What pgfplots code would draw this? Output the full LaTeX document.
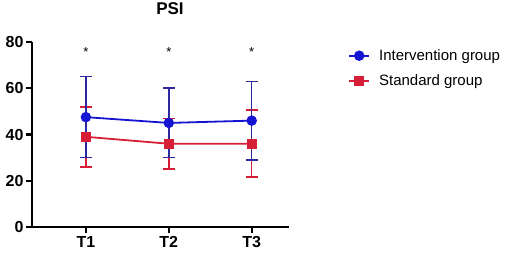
\documentclass[border=0pt]{standalone}
\usepackage{fontspec}
\setmainfont{Liberation Sans}
\usepackage{pgfplots}
\pgfplotsset{compat=1.18}
\definecolor{iblue}{RGB}{20,20,210}
\definecolor{ebar}{RGB}{45,40,160}
\definecolor{sred}{RGB}{215,30,55}
\begin{document}
\begin{tikzpicture}[x=1pt,y=1pt]
\path[use as bounding box] (-32,-37) rectangle (478,227);
\begin{axis}[
  at={(0,0)}, anchor=south west,
  scale only axis, width=257pt, height=185pt,
  xmin=0.35, xmax=3.45, ymin=0, ymax=80,
  axis x line*=bottom, axis y line*=left,
  axis line style={line width=2.2pt, black},
  xtick={1,2,3}, xticklabels={T1,T2,T3},
  ytick={0,20,40,60,80},
  tick align=outside, major tick length=6pt,
  tick style={line width=2.2pt, black},
  ticklabel style={font=\bfseries\fontsize{16}{18}\selectfont},
  /pgf/number format/assume math mode=true,
  yticklabel style={xshift=1pt},
  xticklabel style={yshift=0pt},
  title={\bfseries PSI},
  title style={font=\bfseries\fontsize{17}{19}\selectfont, at={(0.537,1.146)}, anchor=center},
  clip=false,
  reverse legend,
  legend style={at={(1.218,0.982)}, anchor=north west, draw=none, fill=none,
    font=\fontsize{15}{17}\selectfont, row sep=9pt,
    legend cell align=left},
  legend image code/.code={
    \draw[#1, line width=2pt] (0pt,0pt) -- (20pt,0pt);
    \draw[#1, mark repeat=2, mark phase=2] plot coordinates {(0pt,0pt) (10pt,0pt) (20pt,0pt)};
    \path (27pt,0pt);
  },
]
\addplot[sred, line width=1.8pt, mark=square*, mark size=4pt, mark options={solid, fill=sred},
  error bars/.cd, y dir=both, y explicit,
  error bar style={line width=1.6pt, sred},
  error mark options={rotate=90, mark size=6pt, line width=1.6pt, sred}]
  coordinates {
  (1,39) +- (0,13)
  (2,36) +- (0,11)
  (3,36) +- (0,14.5)
  };
\addlegendentry{Standard group}
\addplot[iblue, line width=1.8pt, mark=*, mark size=4.3pt, mark options={solid, fill=iblue},
  error bars/.cd, y dir=both, y explicit,
  error bar style={line width=1.6pt, ebar},
  error mark options={rotate=90, mark size=6pt, line width=1.6pt, ebar}]
  coordinates {
  (1,47.5) +- (0,17.5)
  (2,45) +- (0,15)
  (3,46) +- (0,17)
  };
\addlegendentry{Intervention group}
\node[font=\fontsize{13}{14}\selectfont] at (axis cs:1,75.5) {*};
\node[font=\fontsize{13}{14}\selectfont] at (axis cs:2,75.5) {*};
\node[font=\fontsize{13}{14}\selectfont] at (axis cs:3,75.5) {*};
\end{axis}
\end{tikzpicture}
\end{document}
